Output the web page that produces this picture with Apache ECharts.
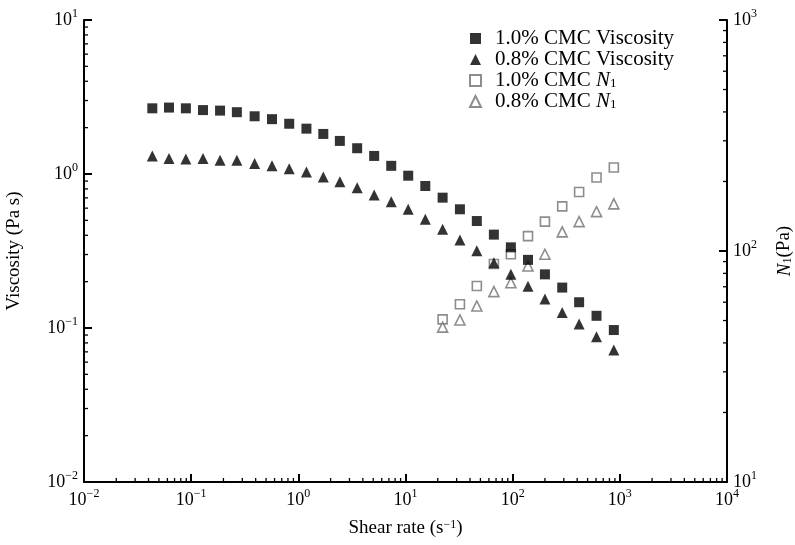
<!DOCTYPE html>
<html>
<head>
<meta charset="utf-8">
<script src="https://cdn.jsdelivr.net/npm/echarts@6/dist/echarts.min.js"></script>
<style>html,body{margin:0;padding:0;background:#fff;}#c{width:795px;height:545px;}</style>
</head>
<body>
<div id="c"></div>
<script>
// ---- data ----
const shearRate = [0.0434,0.0621,0.0893,0.129,0.186,0.267,0.391,0.568,0.822,1.19,1.71,2.44,3.54,5.10,7.36,10.6,15.3,22.2,32.2,46.3,66.8,96.2,139,200,290,417,606,879];
const visc10 = [2.67,2.70,2.67,2.60,2.58,2.52,2.37,2.27,2.12,1.97,1.82,1.64,1.47,1.31,1.13,0.975,0.836,0.702,0.590,0.495,0.404,0.334,0.277,0.223,0.183,0.147,0.120,0.097];
const visc08 = [1.31,1.26,1.25,1.26,1.23,1.23,1.17,1.13,1.08,1.03,0.957,0.891,0.815,0.731,0.661,0.590,0.508,0.438,0.373,0.318,0.265,0.223,0.187,0.154,0.126,0.106,0.0879,0.072];
const shearRateN1 = [22.2,32.2,46.3,66.8,96.2,139,200,290,417,606,879];
const n1_10 = [50.6,58.8,70.5,87.9,96.8,116,134,156,180,208,230];
const n1_08 = [46.8,50.3,57.8,66.7,72.9,86.1,96.8,121,134,148,160];
const seriesNames = ['1.0% CMC Viscosity','0.8% CMC Viscosity','1.0% CMC N1','0.8% CMC N1'];
const xRange = [0.01, 10000];
const yLeftRange = [0.01, 10];
const yRightRange = [10, 1000];

const FONT = 'Liberation Serif';
const INK = '#000';
const zip = (xs, ys) => xs.map((x, i) => [x, ys[i]]);

function minorValues(lo, hi) {
  const out = [];
  for (let e = Math.round(Math.log10(lo)); e < Math.round(Math.log10(hi)); e++) {
    for (let m = 2; m <= 9; m++) out.push(+(m * Math.pow(10, e)).toPrecision(3));
  }
  return out;
}
const supRich = {
  b: {fontFamily: FONT, fontSize: 18, color: INK, lineHeight: 24},
  sup: {fontFamily: FONT, fontSize: 12, color: INK, verticalAlign: 'top', lineHeight: 14}
};
function powLabel(v) {
  const e = Math.round(Math.log10(v));
  return '{b|10}{sup|' + (e < 0 ? '\u2212' + (-e) : e) + '}';
}

const axisLineStyle = {color: INK, width: 2};

const chart = echarts.init(document.getElementById('c'), null, {renderer: 'canvas'});
chart.setOption({
  animation: false,
  backgroundColor: '#fff',
  grid: {left: 84, right: 68, top: 20, bottom: 63, containLabel: false, outerBoundsMode: 'none'},
  legend: {
    orient: 'vertical',
    left: 469, top: 28, padding: 0,
    itemWidth: 11, itemHeight: 11, itemGap: 0,
    data: seriesNames,
    formatter: function (name) {
      if (name.endsWith('N1')) return '{t|' + name.slice(0, -2) + '}{i|N}{s|1}';
      return '{t|' + name + '}';
    },
    textStyle: {
      fontFamily: FONT, fontSize: 21, color: INK, lineHeight: 19,
      rich: {
        t: {fontFamily: FONT, fontSize: 21, color: INK, lineHeight: 19, padding: [0, 0, 0, 9]},
        i: {fontFamily: FONT, fontSize: 21, fontStyle: 'italic', color: INK, lineHeight: 19},
        s: {fontFamily: FONT, fontSize: 13, color: INK, verticalAlign: 'bottom', lineHeight: 11}
      }
    }
  },
  xAxis: {
    type: 'log', logBase: 10, min: xRange[0], max: xRange[1],
    name: 'Shear rate (s{sup|\u22121})', nameLocation: 'middle', nameGap: 37,
    nameTextStyle: {fontFamily: FONT, fontSize: 19, color: INK,
      rich: {sup: {fontFamily: FONT, fontSize: 12, color: INK, verticalAlign: 'top', lineHeight: 14}}},
    axisLine: {lineStyle: axisLineStyle},
    axisTick: {inside: true, length: 8, lineStyle: {color: INK, width: 2}},
    axisLabel: {formatter: powLabel, rich: supRich, margin: 6},
    splitLine: {show: false}
  },
  yAxis: [{
    type: 'log', logBase: 10, min: yLeftRange[0], max: yLeftRange[1],
    name: 'Viscosity (Pa s)', nameLocation: 'middle', nameGap: 60, nameRotate: 90,
    nameTextStyle: {fontFamily: FONT, fontSize: 19, color: INK},
    axisLine: {show: true, lineStyle: axisLineStyle},
    axisTick: {show: true, inside: true, length: 8, lineStyle: {color: INK, width: 2}},
    axisLabel: {formatter: powLabel, rich: supRich, margin: 6},
    splitLine: {show: false}
  }, {
    type: 'log', logBase: 10, min: yRightRange[0], max: yRightRange[1], position: 'right',
    name: '{i|N}{s|1}(Pa)', nameLocation: 'middle', nameGap: 48, nameRotate: 90,
    nameTextStyle: {fontFamily: FONT, fontSize: 19, color: INK,
      rich: {
        i: {fontFamily: FONT, fontSize: 19, fontStyle: 'italic', color: INK},
        s: {fontFamily: FONT, fontSize: 12, color: INK, verticalAlign: 'bottom', lineHeight: 12}
      }},
    axisLine: {show: true, lineStyle: axisLineStyle},
    axisTick: {show: true, inside: true, length: 8, lineStyle: {color: INK, width: 2}},
    axisLabel: {formatter: powLabel, rich: supRich, margin: 6},
    splitLine: {show: false}
  }],
  series: [
    {
      name: seriesNames[2], type: 'scatter', yAxisIndex: 1, symbol: 'rect', symbolSize: 9,
      itemStyle: {color: '#fff', borderColor: '#707070', borderWidth: 1.6},
      data: zip(shearRateN1, n1_10), z: 2
    },
    {
      name: seriesNames[3], type: 'scatter', yAxisIndex: 1, symbol: 'triangle', symbolSize: 10,
      itemStyle: {color: '#fff', borderColor: '#707070', borderWidth: 1.6},
      data: zip(shearRateN1, n1_08), z: 2
    },
    {
      name: seriesNames[0], type: 'scatter', yAxisIndex: 0, symbol: 'rect', symbolSize: 10,
      itemStyle: {color: INK}, data: zip(shearRate, visc10), z: 3
    },
    {
      name: seriesNames[1], type: 'scatter', yAxisIndex: 0, symbol: 'triangle', symbolSize: 11,
      itemStyle: {color: INK}, data: zip(shearRate, visc08), z: 3
    },
    // minor ticks along the axes (decorations, placed through axis scales)
    {
      type: 'custom', xAxisIndex: 0, yAxisIndex: 0, silent: true, z: 5,
      data: minorValues(xRange[0], xRange[1]).map(v => [v]),
      renderItem: function (params, api) {
        const p = api.coord([api.value(0), yLeftRange[0]]);
        return {type: 'line', shape: {x1: p[0], y1: p[1], x2: p[0], y2: p[1] - 4},
          style: {stroke: INK, lineWidth: 1.3}};
      }
    },
    {
      type: 'custom', xAxisIndex: 0, yAxisIndex: 0, silent: true, z: 5,
      data: minorValues(yLeftRange[0], yLeftRange[1]).map(v => [xRange[0], v]),
      renderItem: function (params, api) {
        const p = api.coord([api.value(0), api.value(1)]);
        return {type: 'line', shape: {x1: p[0], y1: p[1], x2: p[0] + 4, y2: p[1]},
          style: {stroke: INK, lineWidth: 1.3}};
      }
    },
    {
      type: 'custom', xAxisIndex: 0, yAxisIndex: 1, silent: true, z: 5,
      data: minorValues(yRightRange[0], yRightRange[1]).map(v => [xRange[1], v]),
      renderItem: function (params, api) {
        const p = api.coord([api.value(0), api.value(1)]);
        return {type: 'line', shape: {x1: p[0], y1: p[1], x2: p[0] - 4, y2: p[1]},
          style: {stroke: INK, lineWidth: 1.3}};
      }
    }
  ]
});
</script>
</body>
</html>
